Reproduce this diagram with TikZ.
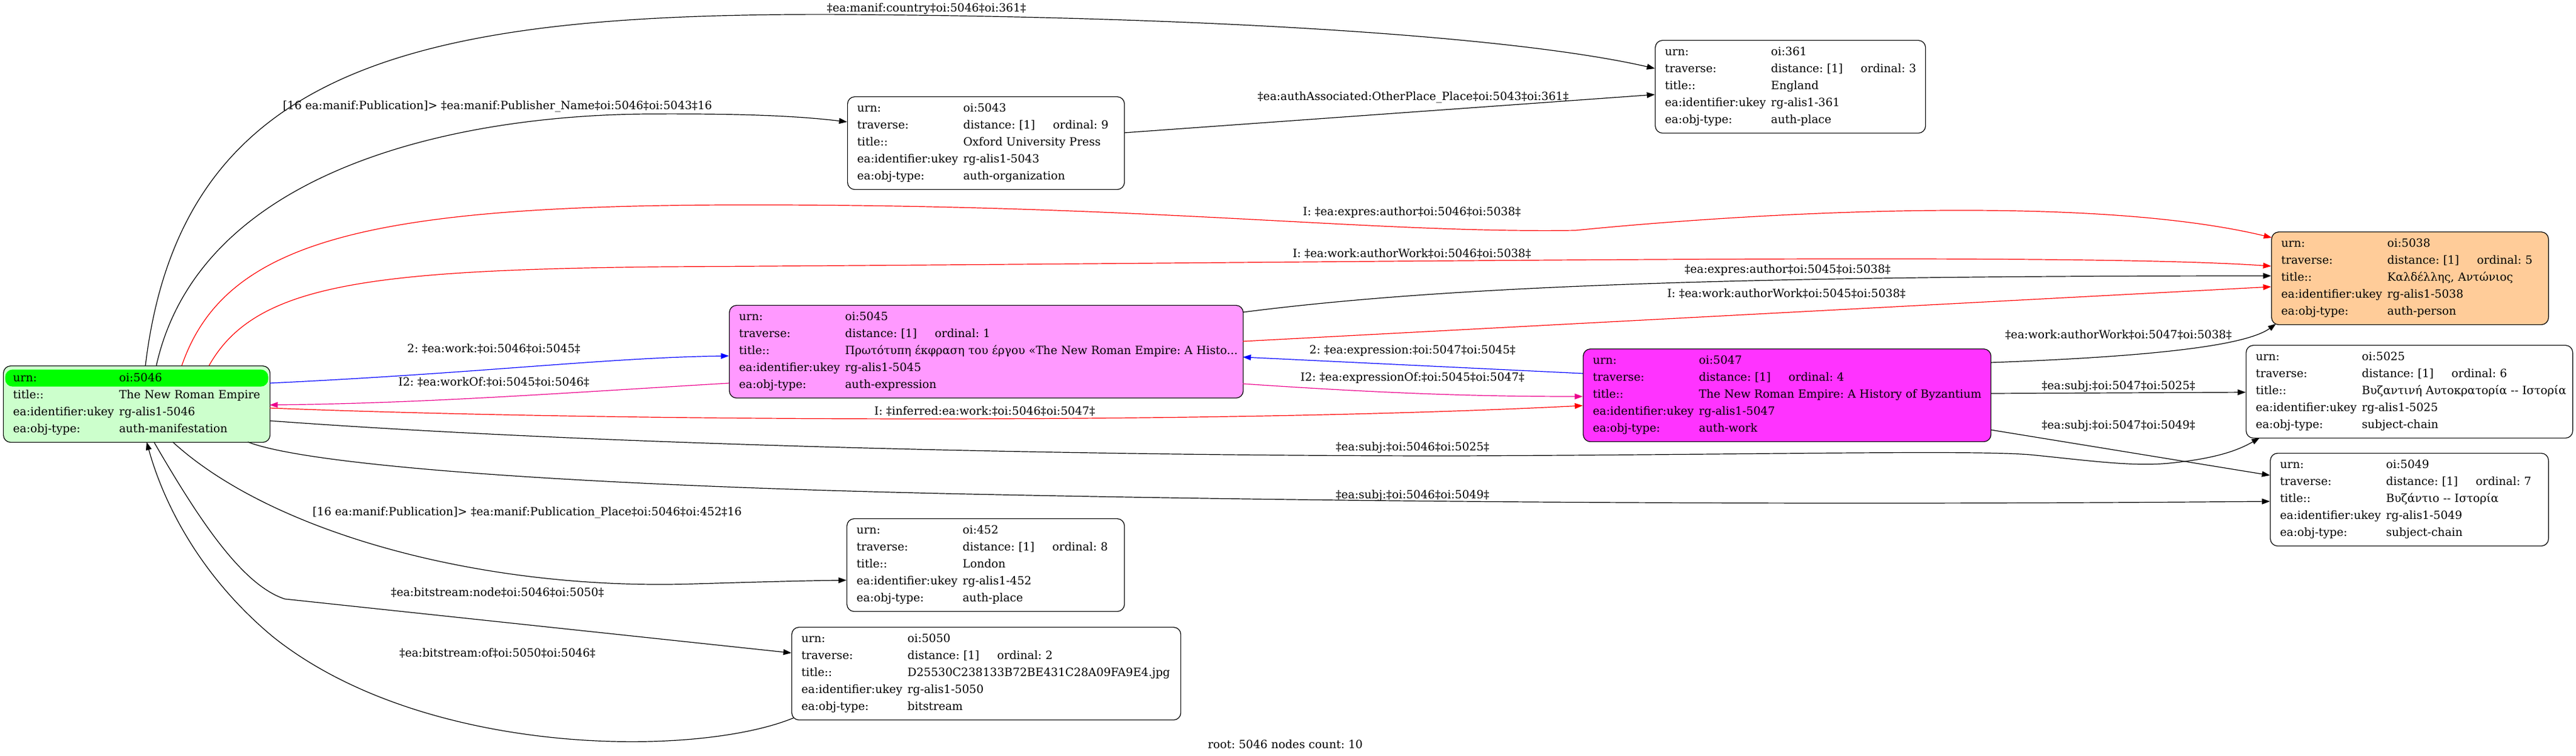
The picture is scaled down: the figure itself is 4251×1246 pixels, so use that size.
\documentclass[tikz,border=0pt]{standalone}
\usepackage{fontspec}
\setmainfont{DejaVu Serif}
\usetikzlibrary{arrows.meta, calc}
\frenchspacing

\definecolor{manifgreen}{HTML}{CCFFCC}
\definecolor{urngreen}{HTML}{00FF00}
\definecolor{exprpink}{HTML}{FF99FF}
\definecolor{workpink}{HTML}{FF33FF}
\definecolor{personorange}{HTML}{FFCC99}

\newcommand{\kv}[2]{\makebox[131.25pt][l]{#1}\mbox{#2}}
\newcommand{\trav}[1]{\kv{traverse:}{\makebox[111pt][l]{distance: [1]}ordinal: #1}}

\begin{document}
\begin{tikzpicture}[x=0.75pt, y=-0.75pt, font=\fontsize{14pt}{21pt}\selectfont,
  rec/.style={draw, line width=0.9pt, rounded corners=9pt, anchor=north west, fill=white,
    align=left, inner xsep=12pt, inner ysep=0pt, minimum height=114.75pt},
  lbl/.style={inner sep=0pt},
  edge/.style={line width=0.9pt, -{Triangle[length=10pt, width=7pt]}},
  fwd/.style={edge, blue},
  inv/.style={edge, magenta},
  inferred/.style={edge, red}]
\useasboundingbox (0,0) rectangle (4251,1246);

\path (5,603) node[rec, fill=manifgreen, minimum height=94.5pt, text width=306pt,
        path picture={\fill[urngreen] ($(path picture bounding box.north west)+(3,6)$)
          rectangle ($(path picture bounding box.north east)+(-3,34)$);}] (n5046)
        {\kv{urn:}{oi:5046}\\ \kv{title::}{The New Roman Empire}\\
         \kv{ea:identifier:ukey}{rg-alis1-5046}\\ \kv{ea:obj-type:}{auth-manifestation}}
      (1398,159) node[rec, text width=318.75pt] (n5043)
        {\kv{urn:}{oi:5043}\\ \trav{9}\\ \kv{title::}{Oxford University Press}\\
         \kv{ea:identifier:ukey}{rg-alis1-5043}\\ \kv{ea:obj-type:}{auth-organization}}
      (2731,66) node[rec, text width=310.5pt] (n361)
        {\kv{urn:}{oi:361}\\ \trav{3}\\ \kv{title::}{England}\\
         \kv{ea:identifier:ukey}{rg-alis1-361}\\ \kv{ea:obj-type:}{auth-place}}
      (1203,503) node[rec, fill=exprpink, text width=612pt] (n5045)
        {\kv{urn:}{oi:5045}\\ \trav{1}\\
         \kv{title::}{Πρωτότυπη έκφραση του έργου «The New Roman Empire: A Histo...}\\
         \kv{ea:identifier:ukey}{rg-alis1-5045}\\ \kv{ea:obj-type:}{auth-expression}}
      (2612,575) node[rec, fill=workpink, text width=480.75pt] (n5047)
        {\kv{urn:}{oi:5047}\\ \trav{4}\\ \kv{title::}{The New Roman Empire: A History of Byzantium}\\
         \kv{ea:identifier:ukey}{rg-alis1-5047}\\ \kv{ea:obj-type:}{auth-work}}
      (3748,382) node[rec, fill=personorange, text width=318.75pt] (n5038)
        {\kv{urn:}{oi:5038}\\ \trav{5}\\ \kv{title::}{Καλδέλλης, Αντώνιος}\\
         \kv{ea:identifier:ukey}{rg-alis1-5038}\\ \kv{ea:obj-type:}{auth-person}}
      (3706,569) node[rec, text width=380.25pt] (n5025)
        {\kv{urn:}{oi:5025}\\ \trav{6}\\ \kv{title::}{Βυζαντινή Αυτοκρατορία -{}- Ιστορία}\\
         \kv{ea:identifier:ukey}{rg-alis1-5025}\\ \kv{ea:obj-type:}{subject-chain}}
      (3746,747) node[rec, text width=320.25pt] (n5049)
        {\kv{urn:}{oi:5049}\\ \trav{7}\\ \kv{title::}{Βυζάντιο -{}- Ιστορία}\\
         \kv{ea:identifier:ukey}{rg-alis1-5049}\\ \kv{ea:obj-type:}{subject-chain}}
      (1397,855) node[rec, text width=319.5pt] (n452)
        {\kv{urn:}{oi:452}\\ \trav{8}\\ \kv{title::}{London}\\
         \kv{ea:identifier:ukey}{rg-alis1-452}\\ \kv{ea:obj-type:}{auth-place}}
      (1306,1034) node[rec, text width=457.5pt] (n5050)
        {\kv{urn:}{oi:5050}\\ \trav{2}\\ \kv{title::}{D25530C238133B72BE431C28A09FA9E4.jpg}\\
         \kv{ea:identifier:ukey}{rg-alis1-5050}\\ \kv{ea:obj-type:}{bitstream}}

      (1529,14) node[lbl] (lcountry) {‡ea:manif:country‡oi:5046‡oi:361‡}
      (821,176) node[lbl] (lpubname) {[16 ea:manif:Publication]> ‡ea:manif:Publisher\_Name‡oi:5046‡oi:5043‡16}
      (2332,161) node[lbl] (lassoc) {‡ea:authAssociated:OtherPlace\_Place‡oi:5043‡oi:361‡}
      (2330,350) node[lbl] (lexpr46) {I: ‡ea:expres:author‡oi:5046‡oi:5038‡}
      (2330,418) node[lbl] (lwork46) {I: ‡ea:work:authorWork‡oi:5046‡oi:5038‡}
      (2950,445) node[lbl] (lexpr45) {‡ea:expres:author‡oi:5045‡oi:5038‡}
      (2948,484) node[lbl] (lwork45) {I: ‡ea:work:authorWork‡oi:5045‡oi:5038‡}
      (3496,552) node[lbl] (lwork47) {‡ea:work:authorWork‡oi:5047‡oi:5038‡}
      (815,575) node[lbl] (lwork) {2: ‡ea:work:‡oi:5046‡oi:5045‡}
      (815,630) node[lbl] (lworkof) {I2: ‡ea:workOf:‡oi:5045‡oi:5046‡}
      (2331,579) node[lbl] (lexpression) {2: ‡ea:expression:‡oi:5047‡oi:5045‡}
      (2331,623) node[lbl] (lexpressionof) {I2: ‡ea:expressionOf:‡oi:5045‡oi:5047‡}
      (1625,678) node[lbl] (linferred) {I: ‡inferred:ea:work:‡oi:5046‡oi:5047‡}
      (3496,637) node[lbl] (lsubj4725) {‡ea:subj:‡oi:5047‡oi:5025‡}
      (3496,702) node[lbl] (lsubj4749) {‡ea:subj:‡oi:5047‡oi:5049‡}
      (2331,738) node[lbl] (lsubj4625) {‡ea:subj:‡oi:5046‡oi:5025‡}
      (2331,817) node[lbl] (lsubj4649) {‡ea:subj:‡oi:5046‡oi:5049‡}
      (870,846) node[lbl] (lpubplace) {[16 ea:manif:Publication]> ‡ea:manif:Publication\_Place‡oi:5046‡oi:452‡16}
      (821,977) node[lbl] (lbitnode) {‡ea:bitstream:node‡oi:5046‡oi:5050‡}
      (821,1077) node[lbl] (lbitof) {‡ea:bitstream:of‡oi:5050‡oi:5046‡}
      (2121,1228) node[lbl] (lroot) {root: 5046 nodes count: 10};

\draw[edge] ($(n5046.north west)+(235,0)$) .. controls (300,100) and (700,20) .. (1400,24)
  .. controls (2000,28) and (2500,60) .. ($(n361.north west)+(0,47)$);
\draw[edge] ($(n5046.north west)+(253,0)$) .. controls (330,280) and (750,190) .. (1070,188)
  .. controls (1250,187) and (1330,193) .. ($(n5043.north west)+(0,42)$);
\draw[edge] ($(n5043.north west)+(457,60)$) -- ($(n361.north west)+(0,90)$);
\draw[inferred] ($(n5046.north west)+(295,0)$) .. controls (370,400) and (600,340) .. (1200,338)
  .. controls (1900,336) and (2250,385) .. (2600,380)
  .. controls (2900,350) and (3450,320) .. ($(n5038.north west)+(1,10)$);
\draw[inferred] ($(n5046.north west)+(340,0)$) .. controls (420,470) and (600,445) .. (1100,440)
  .. controls (2200,434) and (3400,415) .. ($(n5038.north west)+(0,57)$);
\draw[fwd] ($(n5046.north west)+(440,29)$) .. controls (800,615) and (1000,590) .. ($(n5045.north west)+(0,84)$);
\draw[inv] ($(n5045.north west)+(0,129)$) .. controls (900,650) and (700,665) .. ($(n5046.north west)+(440,65)$);
\draw[inferred] ($(n5046.north west)+(440,70)$) .. controls (1000,695) and (2000,700) .. ($(n5047.north west)+(0,94)$);
\draw[edge] ($(n5045.north west)+(848,12)$) .. controls (2400,470) and (2900,455) .. ($(n5038.north west)+(0,73)$);
\draw[inferred] ($(n5045.north west)+(848,60)$) -- ($(n5038.north west)+(0,91)$);
\draw[fwd] ($(n5047.north west)+(0,41)$) -- ($(n5045.north west)+(848,86)$);
\draw[inv] ($(n5045.north west)+(848,130)$) .. controls (2300,650) and (2450,654) .. ($(n5047.north west)+(0,79)$);
\draw[edge] ($(n5047.north west)+(673,23)$) .. controls (3500,590) and (3700,575) .. ($(n5038.north west)+(8,152)$);
\draw[edge] ($(n5047.north west)+(673,74)$) -- ($(n5025.north west)+(0,78)$);
\draw[edge] ($(n5047.north west)+(673,134)$) -- ($(n5049.north west)+(0,37)$);
\draw[edge] ($(n5046.north west)+(440,91)$) .. controls (1000,735) and (1800,752) .. (2400,752)
  .. controls (2900,750) and (3250,742) .. (3350,750)
  .. controls (3450,760) and (3520,770) .. (3580,764)
  .. controls (3650,757) and (3690,745) .. ($(n5025.north west)+(23,153)$);
\draw[edge] ($(n5046.north west)+(404,126)$) .. controls (500,765) and (900,800) .. (1600,815)
  .. controls (2500,834) and (3300,831) .. ($(n5049.north west)+(0,80)$);
\draw[edge] ($(n5046.north west)+(280,126)$) .. controls (450,880) and (800,975) .. (1148,963)
  .. controls (1250,960) and (1320,958) .. ($(n452.north west)+(0,102)$);
\draw[edge] ($(n5046.north west)+(249,126)$) .. controls (330,860) and (400,965) .. (470,988)
  -- ($(n5050.north west)+(0,43)$);
\draw[edge] ($(n5050.north west)+(4,150)$) .. controls (1150,1250) and (700,1250) .. (450,1050)
  .. controls (330,950) and (270,830) .. ($(n5046.north west)+(237,126)$);

\end{tikzpicture}
\end{document}
